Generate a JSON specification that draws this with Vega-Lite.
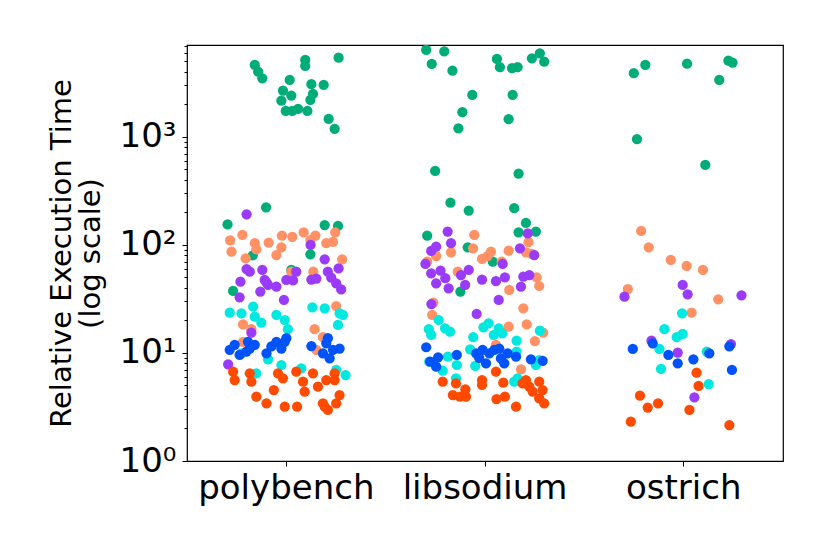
{
  "$schema": "https://vega.github.io/schema/vega-lite/v6.json",
  "width": 596,
  "height": 416,
  "autosize": {"type": "none"},
  "padding": {"left": 187, "top": 45, "right": 47, "bottom": 93},
  "background": "white",
  "config": {
    "font": "DejaVu Sans",
    "view": {"stroke": "black", "strokeWidth": 1.2},
    "axis": {"domainColor": "black", "tickColor": "black", "labelColor": "black", "titleColor": "black", "grid": false}
  },
  "datasets": {
    "runs": [
      {"suite": "polybench", "series": "cfg1", "jitter": -0.159, "time": 4640},
      {"suite": "polybench", "series": "cfg1", "jitter": -0.142, "time": 4025},
      {"suite": "polybench", "series": "cfg1", "jitter": -0.121, "time": 3494},
      {"suite": "polybench", "series": "cfg1", "jitter": 0.095, "time": 5164},
      {"suite": "polybench", "series": "cfg1", "jitter": 0.095, "time": 4541},
      {"suite": "polybench", "series": "cfg1", "jitter": 0.263, "time": 5420},
      {"suite": "polybench", "series": "cfg1", "jitter": 0.017, "time": 3373},
      {"suite": "polybench", "series": "cfg1", "jitter": 0.126, "time": 3076},
      {"suite": "polybench", "series": "cfg1", "jitter": 0.188, "time": 3030},
      {"suite": "polybench", "series": "cfg1", "jitter": -0.017, "time": 2685},
      {"suite": "polybench", "series": "cfg1", "jitter": 0.025, "time": 2415},
      {"suite": "polybench", "series": "cfg1", "jitter": 0.134, "time": 2500},
      {"suite": "polybench", "series": "cfg1", "jitter": -0.025, "time": 2168},
      {"suite": "polybench", "series": "cfg1", "jitter": 0.121, "time": 2202},
      {"suite": "polybench", "series": "cfg1", "jitter": -0.003, "time": 1741},
      {"suite": "polybench", "series": "cfg1", "jitter": 0.03, "time": 1741},
      {"suite": "polybench", "series": "cfg1", "jitter": 0.059, "time": 1816},
      {"suite": "polybench", "series": "cfg1", "jitter": 0.106, "time": 1741},
      {"suite": "polybench", "series": "cfg1", "jitter": 0.213, "time": 1468},
      {"suite": "polybench", "series": "cfg1", "jitter": 0.243, "time": 1186},
      {"suite": "polybench", "series": "cfg1", "jitter": -0.102, "time": 223},
      {"suite": "polybench", "series": "cfg1", "jitter": -0.296, "time": 155},
      {"suite": "polybench", "series": "cfg1", "jitter": 0.193, "time": 153},
      {"suite": "polybench", "series": "cfg1", "jitter": 0.26, "time": 150},
      {"suite": "polybench", "series": "cfg1", "jitter": -0.169, "time": 80.2},
      {"suite": "polybench", "series": "cfg1", "jitter": 0.121, "time": 82},
      {"suite": "polybench", "series": "cfg1", "jitter": -0.268, "time": 37.5},
      {"suite": "polybench", "series": "cfg1", "jitter": 0.025, "time": 58.7},
      {"suite": "libsodium", "series": "cfg1", "jitter": -0.296, "time": 6390},
      {"suite": "libsodium", "series": "cfg1", "jitter": -0.205, "time": 6190},
      {"suite": "libsodium", "series": "cfg1", "jitter": -0.268, "time": 4740},
      {"suite": "libsodium", "series": "cfg1", "jitter": -0.164, "time": 4110},
      {"suite": "libsodium", "series": "cfg1", "jitter": 0.06, "time": 5280},
      {"suite": "libsodium", "series": "cfg1", "jitter": 0.075, "time": 4420},
      {"suite": "libsodium", "series": "cfg1", "jitter": 0.136, "time": 4330},
      {"suite": "libsodium", "series": "cfg1", "jitter": 0.164, "time": 4420},
      {"suite": "libsodium", "series": "cfg1", "jitter": 0.236, "time": 5350},
      {"suite": "libsodium", "series": "cfg1", "jitter": 0.276, "time": 5950},
      {"suite": "libsodium", "series": "cfg1", "jitter": 0.298, "time": 4980},
      {"suite": "libsodium", "series": "cfg1", "jitter": -0.064, "time": 2450},
      {"suite": "libsodium", "series": "cfg1", "jitter": 0.139, "time": 2450},
      {"suite": "libsodium", "series": "cfg1", "jitter": -0.114, "time": 1694},
      {"suite": "libsodium", "series": "cfg1", "jitter": 0.119, "time": 1460},
      {"suite": "libsodium", "series": "cfg1", "jitter": -0.134, "time": 1203},
      {"suite": "libsodium", "series": "cfg1", "jitter": -0.251, "time": 484},
      {"suite": "libsodium", "series": "cfg1", "jitter": 0.169, "time": 457},
      {"suite": "libsodium", "series": "cfg1", "jitter": -0.174, "time": 246},
      {"suite": "libsodium", "series": "cfg1", "jitter": -0.082, "time": 208},
      {"suite": "libsodium", "series": "cfg1", "jitter": 0.147, "time": 219},
      {"suite": "libsodium", "series": "cfg1", "jitter": 0.206, "time": 160},
      {"suite": "libsodium", "series": "cfg1", "jitter": 0.169, "time": 131},
      {"suite": "libsodium", "series": "cfg1", "jitter": 0.256, "time": 133},
      {"suite": "libsodium", "series": "cfg1", "jitter": -0.291, "time": 122},
      {"suite": "libsodium", "series": "cfg1", "jitter": -0.087, "time": 95},
      {"suite": "libsodium", "series": "cfg1", "jitter": 0.039, "time": 70},
      {"suite": "libsodium", "series": "cfg1", "jitter": -0.124, "time": 37},
      {"suite": "ostrich", "series": "cfg1", "jitter": -0.251, "time": 3890},
      {"suite": "ostrich", "series": "cfg1", "jitter": -0.193, "time": 4640},
      {"suite": "ostrich", "series": "cfg1", "jitter": 0.017, "time": 4770},
      {"suite": "ostrich", "series": "cfg1", "jitter": 0.225, "time": 5080},
      {"suite": "ostrich", "series": "cfg1", "jitter": 0.246, "time": 4880},
      {"suite": "ostrich", "series": "cfg1", "jitter": 0.179, "time": 3370},
      {"suite": "ostrich", "series": "cfg1", "jitter": -0.235, "time": 953},
      {"suite": "ostrich", "series": "cfg1", "jitter": 0.109, "time": 550},

      {"suite": "polybench", "series": "cfg2", "jitter": -0.221, "time": 124},
      {"suite": "polybench", "series": "cfg2", "jitter": -0.283, "time": 110},
      {"suite": "polybench", "series": "cfg2", "jitter": -0.276, "time": 86.7},
      {"suite": "polybench", "series": "cfg2", "jitter": -0.159, "time": 104},
      {"suite": "polybench", "series": "cfg2", "jitter": -0.151, "time": 91.2},
      {"suite": "polybench", "series": "cfg2", "jitter": -0.089, "time": 105},
      {"suite": "polybench", "series": "cfg2", "jitter": -0.022, "time": 122},
      {"suite": "polybench", "series": "cfg2", "jitter": 0.03, "time": 119},
      {"suite": "polybench", "series": "cfg2", "jitter": 0.087, "time": 131},
      {"suite": "polybench", "series": "cfg2", "jitter": 0.146, "time": 122},
      {"suite": "polybench", "series": "cfg2", "jitter": 0.121, "time": 111},
      {"suite": "polybench", "series": "cfg2", "jitter": 0.246, "time": 131},
      {"suite": "polybench", "series": "cfg2", "jitter": 0.235, "time": 107},
      {"suite": "polybench", "series": "cfg2", "jitter": 0.201, "time": 104},
      {"suite": "polybench", "series": "cfg2", "jitter": -0.025, "time": 95},
      {"suite": "polybench", "series": "cfg2", "jitter": -0.05, "time": 80.7},
      {"suite": "polybench", "series": "cfg2", "jitter": -0.205, "time": 75.2},
      {"suite": "polybench", "series": "cfg2", "jitter": 0.281, "time": 73.7},
      {"suite": "polybench", "series": "cfg2", "jitter": 0.025, "time": 56.6},
      {"suite": "polybench", "series": "cfg2", "jitter": 0.136, "time": 56.6},
      {"suite": "polybench", "series": "cfg2", "jitter": 0.251, "time": 27.2},
      {"suite": "polybench", "series": "cfg2", "jitter": -0.218, "time": 18.4},
      {"suite": "polybench", "series": "cfg2", "jitter": -0.176, "time": 16.6},
      {"suite": "polybench", "series": "cfg2", "jitter": 0.142, "time": 16.6},
      {"suite": "polybench", "series": "cfg2", "jitter": -0.218, "time": 12.7},
      {"suite": "polybench", "series": "cfg2", "jitter": 0.151, "time": 10.7},
      {"suite": "polybench", "series": "cfg2", "jitter": 0.184, "time": 14},
      {"suite": "libsodium", "series": "cfg2", "jitter": -0.054, "time": 124},
      {"suite": "libsodium", "series": "cfg2", "jitter": -0.06, "time": 93},
      {"suite": "libsodium", "series": "cfg2", "jitter": -0.246, "time": 79},
      {"suite": "libsodium", "series": "cfg2", "jitter": -0.171, "time": 85.6},
      {"suite": "libsodium", "series": "cfg2", "jitter": -0.291, "time": 70},
      {"suite": "libsodium", "series": "cfg2", "jitter": -0.015, "time": 74.2},
      {"suite": "libsodium", "series": "cfg2", "jitter": 0.03, "time": 86.7},
      {"suite": "libsodium", "series": "cfg2", "jitter": 0.084, "time": 70},
      {"suite": "libsodium", "series": "cfg2", "jitter": 0.119, "time": 88.5},
      {"suite": "libsodium", "series": "cfg2", "jitter": 0.219, "time": 106},
      {"suite": "libsodium", "series": "cfg2", "jitter": 0.206, "time": 85.6},
      {"suite": "libsodium", "series": "cfg2", "jitter": 0.236, "time": 82.6},
      {"suite": "libsodium", "series": "cfg2", "jitter": -0.137, "time": 56.6},
      {"suite": "libsodium", "series": "cfg2", "jitter": 0.26, "time": 50},
      {"suite": "libsodium", "series": "cfg2", "jitter": 0.273, "time": 41.7},
      {"suite": "libsodium", "series": "cfg2", "jitter": 0.122, "time": 38.3},
      {"suite": "libsodium", "series": "cfg2", "jitter": -0.26, "time": 29.3},
      {"suite": "libsodium", "series": "cfg2", "jitter": -0.266, "time": 22.5},
      {"suite": "libsodium", "series": "cfg2", "jitter": 0.193, "time": 25.9},
      {"suite": "libsodium", "series": "cfg2", "jitter": 0.21, "time": 18.4},
      {"suite": "libsodium", "series": "cfg2", "jitter": 0.119, "time": 17.5},
      {"suite": "libsodium", "series": "cfg2", "jitter": 0.013, "time": 79},
      {"suite": "libsodium", "series": "cfg2", "jitter": 0.251, "time": 12.9},
      {"suite": "libsodium", "series": "cfg2", "jitter": 0.055, "time": 11.9},
      {"suite": "libsodium", "series": "cfg2", "jitter": 0.181, "time": 7.06},
      {"suite": "libsodium", "series": "cfg2", "jitter": 0.293, "time": 15.4},
      {"suite": "ostrich", "series": "cfg2", "jitter": -0.214, "time": 135},
      {"suite": "ostrich", "series": "cfg2", "jitter": -0.176, "time": 95},
      {"suite": "ostrich", "series": "cfg2", "jitter": -0.065, "time": 72.6},
      {"suite": "ostrich", "series": "cfg2", "jitter": 0.015, "time": 63.9},
      {"suite": "ostrich", "series": "cfg2", "jitter": 0.097, "time": 58.7},
      {"suite": "ostrich", "series": "cfg2", "jitter": -0.281, "time": 39.1},
      {"suite": "ostrich", "series": "cfg2", "jitter": 0.174, "time": 31.4},
      {"suite": "ostrich", "series": "cfg2", "jitter": 0.04, "time": 23.6},

      {"suite": "polybench", "series": "cfg3", "jitter": -0.2, "time": 192},
      {"suite": "polybench", "series": "cfg3", "jitter": 0.122, "time": 100},
      {"suite": "polybench", "series": "cfg3", "jitter": 0.193, "time": 73.7},
      {"suite": "polybench", "series": "cfg3", "jitter": 0.263, "time": 60.8},
      {"suite": "polybench", "series": "cfg3", "jitter": -0.2, "time": 59.6},
      {"suite": "polybench", "series": "cfg3", "jitter": -0.121, "time": 58.7},
      {"suite": "polybench", "series": "cfg3", "jitter": -0.184, "time": 56.6},
      {"suite": "polybench", "series": "cfg3", "jitter": -0.231, "time": 45.7},
      {"suite": "polybench", "series": "cfg3", "jitter": -0.109, "time": 47.4},
      {"suite": "polybench", "series": "cfg3", "jitter": -0.092, "time": 42.6},
      {"suite": "polybench", "series": "cfg3", "jitter": -0.131, "time": 37},
      {"suite": "polybench", "series": "cfg3", "jitter": -0.05, "time": 41.1},
      {"suite": "polybench", "series": "cfg3", "jitter": 0, "time": 47.4},
      {"suite": "polybench", "series": "cfg3", "jitter": 0.034, "time": 47},
      {"suite": "polybench", "series": "cfg3", "jitter": 0.126, "time": 47.8},
      {"suite": "polybench", "series": "cfg3", "jitter": 0.151, "time": 48.8},
      {"suite": "polybench", "series": "cfg3", "jitter": 0.209, "time": 56.6},
      {"suite": "polybench", "series": "cfg3", "jitter": 0.226, "time": 49.8},
      {"suite": "polybench", "series": "cfg3", "jitter": 0.251, "time": 44.2},
      {"suite": "polybench", "series": "cfg3", "jitter": 0.276, "time": 38.8},
      {"suite": "polybench", "series": "cfg3", "jitter": -0.235, "time": 32.8},
      {"suite": "polybench", "series": "cfg3", "jitter": -0.012, "time": 31},
      {"suite": "polybench", "series": "cfg3", "jitter": -0.1, "time": 45},
      {"suite": "polybench", "series": "cfg3", "jitter": 0.05, "time": 56.6},
      {"suite": "polybench", "series": "cfg3", "jitter": -0.176, "time": 15.4},
      {"suite": "polybench", "series": "cfg3", "jitter": -0.293, "time": 7.86},
      {"suite": "libsodium", "series": "cfg3", "jitter": -0.188, "time": 133},
      {"suite": "libsodium", "series": "cfg3", "jitter": 0.215, "time": 128},
      {"suite": "libsodium", "series": "cfg3", "jitter": -0.171, "time": 104},
      {"suite": "libsodium", "series": "cfg3", "jitter": -0.246, "time": 96.6},
      {"suite": "libsodium", "series": "cfg3", "jitter": -0.271, "time": 88},
      {"suite": "libsodium", "series": "cfg3", "jitter": 0.176, "time": 93},
      {"suite": "libsodium", "series": "cfg3", "jitter": 0.248, "time": 80.7},
      {"suite": "libsodium", "series": "cfg3", "jitter": -0.3, "time": 66.7},
      {"suite": "libsodium", "series": "cfg3", "jitter": 0.089, "time": 66.7},
      {"suite": "libsodium", "series": "cfg3", "jitter": -0.271, "time": 54.7},
      {"suite": "libsodium", "series": "cfg3", "jitter": -0.224, "time": 57.8},
      {"suite": "libsodium", "series": "cfg3", "jitter": -0.246, "time": 44.2},
      {"suite": "libsodium", "series": "cfg3", "jitter": -0.2, "time": 49.2},
      {"suite": "libsodium", "series": "cfg3", "jitter": -0.183, "time": 39.7},
      {"suite": "libsodium", "series": "cfg3", "jitter": -0.121, "time": 52.7},
      {"suite": "libsodium", "series": "cfg3", "jitter": -0.082, "time": 58.7},
      {"suite": "libsodium", "series": "cfg3", "jitter": -0.1, "time": 42.6},
      {"suite": "libsodium", "series": "cfg3", "jitter": -0.015, "time": 47.8},
      {"suite": "libsodium", "series": "cfg3", "jitter": 0.055, "time": 46.2},
      {"suite": "libsodium", "series": "cfg3", "jitter": 0.1, "time": 50.2},
      {"suite": "libsodium", "series": "cfg3", "jitter": 0.193, "time": 50.9},
      {"suite": "libsodium", "series": "cfg3", "jitter": 0.223, "time": 52.7},
      {"suite": "libsodium", "series": "cfg3", "jitter": 0.181, "time": 41.1},
      {"suite": "libsodium", "series": "cfg3", "jitter": 0.069, "time": 31},
      {"suite": "libsodium", "series": "cfg3", "jitter": -0.27, "time": 28.4},
      {"suite": "libsodium", "series": "cfg3", "jitter": -0.042, "time": 23},
      {"suite": "ostrich", "series": "cfg3", "jitter": -0.298, "time": 33.2},
      {"suite": "ostrich", "series": "cfg3", "jitter": -0.005, "time": 42.6},
      {"suite": "ostrich", "series": "cfg3", "jitter": 0.02, "time": 34.9},
      {"suite": "ostrich", "series": "cfg3", "jitter": 0.291, "time": 34.2},
      {"suite": "ostrich", "series": "cfg3", "jitter": -0.162, "time": 13},
      {"suite": "ostrich", "series": "cfg3", "jitter": -0.03, "time": 10.1},
      {"suite": "ostrich", "series": "cfg3", "jitter": 0.238, "time": 12.1},
      {"suite": "ostrich", "series": "cfg3", "jitter": 0.054, "time": 3.89},

      {"suite": "polybench", "series": "cfg4", "jitter": -0.285, "time": 23.6},
      {"suite": "polybench", "series": "cfg4", "jitter": -0.226, "time": 23.3},
      {"suite": "polybench", "series": "cfg4", "jitter": -0.167, "time": 26.8},
      {"suite": "polybench", "series": "cfg4", "jitter": -0.159, "time": 21.7},
      {"suite": "polybench", "series": "cfg4", "jitter": -0.126, "time": 19.1},
      {"suite": "polybench", "series": "cfg4", "jitter": -0.05, "time": 22.5},
      {"suite": "polybench", "series": "cfg4", "jitter": -0.008, "time": 20.2},
      {"suite": "polybench", "series": "cfg4", "jitter": 0.008, "time": 16.6},
      {"suite": "polybench", "series": "cfg4", "jitter": 0.131, "time": 26.5},
      {"suite": "polybench", "series": "cfg4", "jitter": 0.193, "time": 25.9},
      {"suite": "polybench", "series": "cfg4", "jitter": 0.268, "time": 23.3},
      {"suite": "polybench", "series": "cfg4", "jitter": 0.285, "time": 22.5},
      {"suite": "polybench", "series": "cfg4", "jitter": 0.26, "time": 18.2},
      {"suite": "polybench", "series": "cfg4", "jitter": -0.151, "time": 6.49},
      {"suite": "polybench", "series": "cfg4", "jitter": 0.251, "time": 6.96},
      {"suite": "polybench", "series": "cfg4", "jitter": 0.298, "time": 6.25},
      {"suite": "polybench", "series": "cfg4", "jitter": -0.025, "time": 7.74},
      {"suite": "polybench", "series": "cfg4", "jitter": -0.092, "time": 8.74},
      {"suite": "polybench", "series": "cfg4", "jitter": -0.226, "time": 9.93},
      {"suite": "polybench", "series": "cfg4", "jitter": 0.075, "time": 7.2},
      {"suite": "libsodium", "series": "cfg4", "jitter": -0.283, "time": 16.6},
      {"suite": "libsodium", "series": "cfg4", "jitter": -0.271, "time": 14.7},
      {"suite": "libsodium", "series": "cfg4", "jitter": -0.233, "time": 20.2},
      {"suite": "libsodium", "series": "cfg4", "jitter": -0.201, "time": 16.9},
      {"suite": "libsodium", "series": "cfg4", "jitter": -0.176, "time": 15.8},
      {"suite": "libsodium", "series": "cfg4", "jitter": -0.059, "time": 14},
      {"suite": "libsodium", "series": "cfg4", "jitter": -0.008, "time": 17.3},
      {"suite": "libsodium", "series": "cfg4", "jitter": 0.018, "time": 18.8},
      {"suite": "libsodium", "series": "cfg4", "jitter": 0.069, "time": 16.9},
      {"suite": "libsodium", "series": "cfg4", "jitter": 0.044, "time": 14.7},
      {"suite": "libsodium", "series": "cfg4", "jitter": 0.087, "time": 15.2},
      {"suite": "libsodium", "series": "cfg4", "jitter": 0.159, "time": 13},
      {"suite": "libsodium", "series": "cfg4", "jitter": 0.159, "time": 10.3},
      {"suite": "libsodium", "series": "cfg4", "jitter": 0.276, "time": 16.1},
      {"suite": "libsodium", "series": "cfg4", "jitter": -0.075, "time": 10.8},
      {"suite": "libsodium", "series": "cfg4", "jitter": -0.187, "time": 9.25},
      {"suite": "libsodium", "series": "cfg4", "jitter": -0.142, "time": 7.74},
      {"suite": "libsodium", "series": "cfg4", "jitter": -0.281, "time": 8.3},
      {"suite": "libsodium", "series": "cfg4", "jitter": -0.213, "time": 6.86},
      {"suite": "libsodium", "series": "cfg4", "jitter": -0.146, "time": 5.83},
      {"suite": "libsodium", "series": "cfg4", "jitter": -0.049, "time": 7.59},
      {"suite": "libsodium", "series": "cfg4", "jitter": 0.147, "time": 5.42},
      {"suite": "libsodium", "series": "cfg4", "jitter": 0.164, "time": 5.83},
      {"suite": "libsodium", "series": "cfg4", "jitter": 0.256, "time": 7.74},
      {"suite": "libsodium", "series": "cfg4", "jitter": 0.273, "time": 8.6},
      {"suite": "ostrich", "series": "cfg4", "jitter": -0.008, "time": 23.3},
      {"suite": "ostrich", "series": "cfg4", "jitter": -0.097, "time": 16.6},
      {"suite": "ostrich", "series": "cfg4", "jitter": -0.035, "time": 14},
      {"suite": "ostrich", "series": "cfg4", "jitter": -0.005, "time": 15},
      {"suite": "ostrich", "series": "cfg4", "jitter": -0.122, "time": 10.9},
      {"suite": "ostrich", "series": "cfg4", "jitter": 0.116, "time": 10.3},
      {"suite": "ostrich", "series": "cfg4", "jitter": -0.114, "time": 7.11},
      {"suite": "ostrich", "series": "cfg4", "jitter": 0.126, "time": 5.16},

      {"suite": "polybench", "series": "cfg5", "jitter": -0.285, "time": 10.7},
      {"suite": "polybench", "series": "cfg5", "jitter": -0.26, "time": 11.9},
      {"suite": "polybench", "series": "cfg5", "jitter": -0.235, "time": 9.58},
      {"suite": "polybench", "series": "cfg5", "jitter": -0.193, "time": 12.7},
      {"suite": "polybench", "series": "cfg5", "jitter": -0.184, "time": 11},
      {"suite": "polybench", "series": "cfg5", "jitter": -0.159, "time": 11.9},
      {"suite": "polybench", "series": "cfg5", "jitter": -0.1, "time": 9.93},
      {"suite": "polybench", "series": "cfg5", "jitter": -0.075, "time": 11.5},
      {"suite": "polybench", "series": "cfg5", "jitter": -0.05, "time": 12.7},
      {"suite": "polybench", "series": "cfg5", "jitter": -0.025, "time": 11},
      {"suite": "polybench", "series": "cfg5", "jitter": -0.008, "time": 12.7},
      {"suite": "polybench", "series": "cfg5", "jitter": 0, "time": 13.7},
      {"suite": "polybench", "series": "cfg5", "jitter": 0.126, "time": 11.6},
      {"suite": "polybench", "series": "cfg5", "jitter": 0.184, "time": 9.93},
      {"suite": "polybench", "series": "cfg5", "jitter": 0.209, "time": 13.7},
      {"suite": "polybench", "series": "cfg5", "jitter": 0.235, "time": 10.7},
      {"suite": "polybench", "series": "cfg5", "jitter": 0.268, "time": 11},
      {"suite": "polybench", "series": "cfg5", "jitter": 0.218, "time": 8.9},
      {"suite": "polybench", "series": "cfg5", "jitter": 0.201, "time": 12.3},
      {"suite": "polybench", "series": "cfg5", "jitter": -0.201, "time": 10.3},
      {"suite": "libsodium", "series": "cfg5", "jitter": -0.296, "time": 11.3},
      {"suite": "libsodium", "series": "cfg5", "jitter": -0.276, "time": 8.3},
      {"suite": "libsodium", "series": "cfg5", "jitter": -0.246, "time": 7.47},
      {"suite": "libsodium", "series": "cfg5", "jitter": -0.236, "time": 9.12},
      {"suite": "libsodium", "series": "cfg5", "jitter": -0.142, "time": 9.58},
      {"suite": "libsodium", "series": "cfg5", "jitter": -0.045, "time": 9.93},
      {"suite": "libsodium", "series": "cfg5", "jitter": -0.012, "time": 10.7},
      {"suite": "libsodium", "series": "cfg5", "jitter": 0.005, "time": 8.02},
      {"suite": "libsodium", "series": "cfg5", "jitter": 0.022, "time": 9.93},
      {"suite": "libsodium", "series": "cfg5", "jitter": 0.047, "time": 10.7},
      {"suite": "libsodium", "series": "cfg5", "jitter": 0.072, "time": 11},
      {"suite": "libsodium", "series": "cfg5", "jitter": 0.08, "time": 8.9},
      {"suite": "libsodium", "series": "cfg5", "jitter": 0.097, "time": 8.02},
      {"suite": "libsodium", "series": "cfg5", "jitter": 0.114, "time": 9.93},
      {"suite": "libsodium", "series": "cfg5", "jitter": 0.156, "time": 9.25},
      {"suite": "libsodium", "series": "cfg5", "jitter": 0.231, "time": 8.74},
      {"suite": "libsodium", "series": "cfg5", "jitter": 0.29, "time": 8.47},
      {"suite": "libsodium", "series": "cfg5", "jitter": -0.029, "time": 9},
      {"suite": "ostrich", "series": "cfg5", "jitter": -0.256, "time": 10.9},
      {"suite": "ostrich", "series": "cfg5", "jitter": -0.156, "time": 12.3},
      {"suite": "ostrich", "series": "cfg5", "jitter": -0.077, "time": 9.58},
      {"suite": "ostrich", "series": "cfg5", "jitter": -0.03, "time": 8.03},
      {"suite": "ostrich", "series": "cfg5", "jitter": 0.049, "time": 8.74},
      {"suite": "ostrich", "series": "cfg5", "jitter": 0.129, "time": 9.93},
      {"suite": "ostrich", "series": "cfg5", "jitter": 0.23, "time": 11.5},
      {"suite": "ostrich", "series": "cfg5", "jitter": 0.243, "time": 6.96},

      {"suite": "polybench", "series": "cfg6", "jitter": -0.268, "time": 6.71},
      {"suite": "polybench", "series": "cfg6", "jitter": -0.26, "time": 5.62},
      {"suite": "polybench", "series": "cfg6", "jitter": -0.184, "time": 6.49},
      {"suite": "polybench", "series": "cfg6", "jitter": -0.176, "time": 5.42},
      {"suite": "polybench", "series": "cfg6", "jitter": -0.151, "time": 3.94},
      {"suite": "polybench", "series": "cfg6", "jitter": -0.1, "time": 3.42},
      {"suite": "polybench", "series": "cfg6", "jitter": -0.063, "time": 4.54},
      {"suite": "polybench", "series": "cfg6", "jitter": -0.042, "time": 6.49},
      {"suite": "polybench", "series": "cfg6", "jitter": -0.017, "time": 5.83},
      {"suite": "polybench", "series": "cfg6", "jitter": -0.008, "time": 3.18},
      {"suite": "polybench", "series": "cfg6", "jitter": 0.054, "time": 3.18},
      {"suite": "polybench", "series": "cfg6", "jitter": 0.05, "time": 6.71},
      {"suite": "polybench", "series": "cfg6", "jitter": 0.084, "time": 5.42},
      {"suite": "polybench", "series": "cfg6", "jitter": 0.092, "time": 4.38},
      {"suite": "polybench", "series": "cfg6", "jitter": 0.134, "time": 6.49},
      {"suite": "polybench", "series": "cfg6", "jitter": 0.159, "time": 4.88},
      {"suite": "polybench", "series": "cfg6", "jitter": 0.201, "time": 5.62},
      {"suite": "polybench", "series": "cfg6", "jitter": 0.243, "time": 6.49},
      {"suite": "polybench", "series": "cfg6", "jitter": 0.243, "time": 5.62},
      {"suite": "polybench", "series": "cfg6", "jitter": 0.268, "time": 4.08},
      {"suite": "polybench", "series": "cfg6", "jitter": 0.251, "time": 3.42},
      {"suite": "polybench", "series": "cfg6", "jitter": 0.193, "time": 3.18},
      {"suite": "polybench", "series": "cfg6", "jitter": 0.209, "time": 2.97},
      {"suite": "polybench", "series": "cfg6", "jitter": 0.184, "time": 3.42},
      {"suite": "libsodium", "series": "cfg6", "jitter": -0.213, "time": 5.42},
      {"suite": "libsodium", "series": "cfg6", "jitter": -0.146, "time": 5.23},
      {"suite": "libsodium", "series": "cfg6", "jitter": -0.162, "time": 4.08},
      {"suite": "libsodium", "series": "cfg6", "jitter": -0.126, "time": 3.94},
      {"suite": "libsodium", "series": "cfg6", "jitter": -0.099, "time": 4.61},
      {"suite": "libsodium", "series": "cfg6", "jitter": -0.096, "time": 3.94},
      {"suite": "libsodium", "series": "cfg6", "jitter": -0.015, "time": 5.62},
      {"suite": "libsodium", "series": "cfg6", "jitter": -0.015, "time": 5.06},
      {"suite": "libsodium", "series": "cfg6", "jitter": 0.055, "time": 6.71},
      {"suite": "libsodium", "series": "cfg6", "jitter": 0.092, "time": 5.31},
      {"suite": "libsodium", "series": "cfg6", "jitter": 0.058, "time": 3.73},
      {"suite": "libsodium", "series": "cfg6", "jitter": 0.1, "time": 3.94},
      {"suite": "libsodium", "series": "cfg6", "jitter": 0.156, "time": 3.18},
      {"suite": "libsodium", "series": "cfg6", "jitter": 0.189, "time": 5.23},
      {"suite": "libsodium", "series": "cfg6", "jitter": 0.206, "time": 5.62},
      {"suite": "libsodium", "series": "cfg6", "jitter": 0.223, "time": 4.88},
      {"suite": "libsodium", "series": "cfg6", "jitter": 0.24, "time": 4.38},
      {"suite": "libsodium", "series": "cfg6", "jitter": 0.273, "time": 5.42},
      {"suite": "libsodium", "series": "cfg6", "jitter": 0.29, "time": 4.54},
      {"suite": "libsodium", "series": "cfg6", "jitter": 0.298, "time": 3.42},
      {"suite": "libsodium", "series": "cfg6", "jitter": 0.273, "time": 3.8},
      {"suite": "ostrich", "series": "cfg6", "jitter": 0.065, "time": 6.57},
      {"suite": "ostrich", "series": "cfg6", "jitter": 0.075, "time": 4.95},
      {"suite": "ostrich", "series": "cfg6", "jitter": -0.22, "time": 4.02},
      {"suite": "ostrich", "series": "cfg6", "jitter": -0.181, "time": 3.12},
      {"suite": "ostrich", "series": "cfg6", "jitter": -0.129, "time": 3.42},
      {"suite": "ostrich", "series": "cfg6", "jitter": 0.029, "time": 2.97},
      {"suite": "ostrich", "series": "cfg6", "jitter": -0.266, "time": 2.31},
      {"suite": "ostrich", "series": "cfg6", "jitter": 0.23, "time": 2.15}
    ]
  },
  "data": {"name": "runs"},
  "layer": [
    {
      "mark": {"type": "circle", "size": 105, "opacity": 1, "clip": true},
      "encoding": {
        "x": {
          "field": "suite",
          "type": "nominal",
          "sort": ["polybench", "libsodium", "ostrich"],
          "scale": {"paddingInner": 0, "paddingOuter": 0},
          "axis": {"title": null, "labelAngle": 0, "labelFontSize": 34, "labelPadding": 5, "tickSize": 5, "domain": false}
        },
        "xOffset": {"field": "jitter", "type": "quantitative", "scale": {"domain": [-0.5, 0.5]}},
        "y": {
          "field": "time",
          "type": "quantitative",
          "scale": {"type": "log", "domain": [1, 7100], "nice": false},
          "axis": {
            "orient": "left",
            "values": [1, 10, 100, 1000],
            "labelExpr": "datum.value < 5 ? '10⁰' : datum.value < 50 ? '10¹' : datum.value < 500 ? '10²' : '10³'",
            "labelFontSize": 34,
            "labelPadding": 6,
            "tickSize": 5,
            "domain": false,
            "title": ["Relative Execution Time", "(log scale)"],
            "titleFontSize": 29,
            "titleFontWeight": "normal",
            "titleLineHeight": 29,
            "titlePadding": 14
          }
        },
        "color": {
          "field": "series",
          "type": "nominal",
          "scale": {
            "domain": ["cfg1", "cfg2", "cfg3", "cfg4", "cfg5", "cfg6"],
            "range": ["#00ad78", "#ff9165", "#9b3bfa", "#00e8e0", "#0052fa", "#ff4a00"]
          },
          "legend": null
        }
      }
    },
    {
      "mark": {"type": "circle", "opacity": 0},
      "encoding": {
        "y": {
          "field": "time",
          "type": "quantitative",
          "axis": {
            "orient": "left",
            "values": [2, 3, 4, 5, 6, 7, 8, 9, 20, 30, 40, 50, 60, 70, 80, 90, 200, 300, 400, 500, 600, 700, 800, 900, 2000, 3000, 4000, 5000, 6000, 7000],
            "labels": false,
            "tickSize": 3,
            "domain": false,
            "title": null
          }
        }
      }
    }
  ],
  "resolve": {"axis": {"y": "independent"}}
}
